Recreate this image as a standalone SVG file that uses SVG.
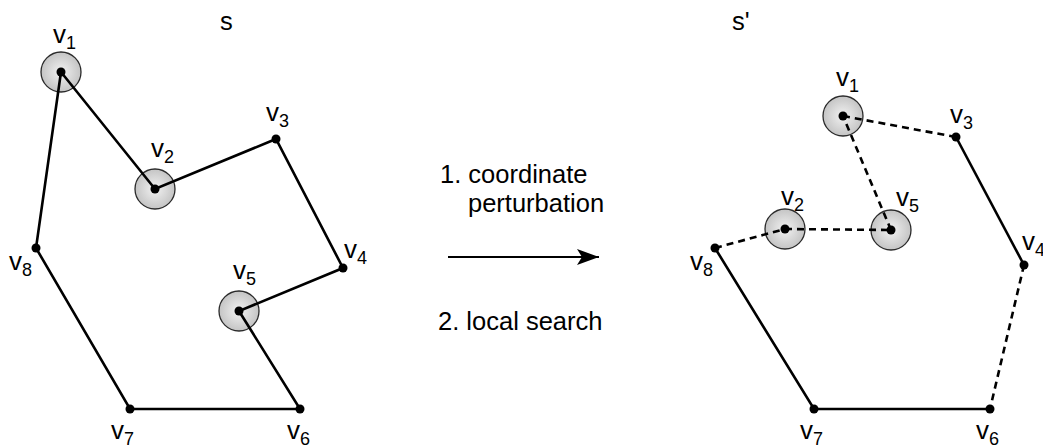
<svg xmlns="http://www.w3.org/2000/svg" width="1043" height="447" viewBox="0 0 1043 447">
<defs>
<radialGradient id="g" cx="50%" cy="50%" r="50%">
<stop offset="0" stop-color="#f2f2f2"/>
<stop offset="1" stop-color="#c4c4c4"/>
</radialGradient>
<marker id="ah" viewBox="0 0 22 16" refX="22" refY="8" markerWidth="22" markerHeight="16" markerUnits="userSpaceOnUse" orient="auto">
<path d="M0,0 L22,8 L0,16 L5,8 Z" fill="#000"/>
</marker>
</defs>
<style>
text{font-family:"Liberation Sans",Arial,sans-serif;fill:#000}
.lb{font-size:26px}
.sb{font-size:18px}
.big{font-size:25.5px}
.e{stroke:#000;stroke-width:2.6;fill:none}
.d{stroke:#000;stroke-width:2.6;fill:none;stroke-dasharray:7 5}
.halo{fill:url(#g);stroke:#2a2a2a;stroke-width:1.3}
.dot{fill:#000}
</style>
<rect width="1043" height="447" fill="#fff"/>
<text class="big" x="220" y="30">s</text>
<text class="big" x="732" y="30">s'</text>
<g id="arrow">
<line x1="448" y1="257" x2="599" y2="257" stroke="#000" stroke-width="2" marker-end="url(#ah)"/>
<text class="big" x="440" y="183">1. coordinate</text>
<text class="big" x="468" y="212">perturbation</text>
<text class="big" x="438" y="330">2. local search</text>
</g>
<g id="halos">
<circle class="halo" cx="61" cy="72" r="20"/>
<circle class="halo" cx="155" cy="189" r="20"/>
<circle class="halo" cx="239" cy="311" r="20"/>
<circle class="halo" cx="843" cy="116" r="20"/>
<circle class="halo" cx="785" cy="229" r="20"/>
<circle class="halo" cx="891" cy="230" r="20"/>
</g>
<g id="connectors">
<polyline class="e" points="61,72 155,189 276,139 343,268 239,311 300,409 130,409 36,248 61,72"/>
<line class="d" x1="843" y1="116" x2="956" y2="137"/>
<line class="e" x1="956" y1="137" x2="1024" y2="265"/>
<line class="d" x1="1024" y1="265" x2="990" y2="409"/>
<polyline class="e" points="990,409 814,409 715,248"/>
<line class="d" x1="715" y1="248" x2="785" y2="229"/>
<line class="d" x1="785" y1="229" x2="891" y2="230"/>
<line class="d" x1="891" y1="230" x2="843" y2="116"/>
</g>
<g id="s-v1"><circle class="dot" cx="61" cy="72" r="4.5"/><text class="lb" x="53" y="43">v<tspan class="sb" dy="6">1</tspan></text></g>
<g id="s-v2"><circle class="dot" cx="155" cy="189" r="4.5"/><text class="lb" x="151" y="157">v<tspan class="sb" dy="6">2</tspan></text></g>
<g id="s-v3"><circle class="dot" cx="276" cy="139" r="4.5"/><text class="lb" x="266" y="121">v<tspan class="sb" dy="6">3</tspan></text></g>
<g id="s-v4"><circle class="dot" cx="343" cy="268" r="4.5"/><text class="lb" x="344" y="258">v<tspan class="sb" dy="6">4</tspan></text></g>
<g id="s-v5"><circle class="dot" cx="239" cy="311" r="4.5"/><text class="lb" x="233" y="279">v<tspan class="sb" dy="6">5</tspan></text></g>
<g id="s-v6"><circle class="dot" cx="300" cy="409" r="4.5"/><text class="lb" x="287" y="439">v<tspan class="sb" dy="6">6</tspan></text></g>
<g id="s-v7"><circle class="dot" cx="130" cy="409" r="4.5"/><text class="lb" x="111" y="439">v<tspan class="sb" dy="6">7</tspan></text></g>
<g id="s-v8"><circle class="dot" cx="36" cy="248" r="4.5"/><text class="lb" x="9" y="270">v<tspan class="sb" dy="6">8</tspan></text></g>
<g id="t-v1"><circle class="dot" cx="843" cy="116" r="4.5"/><text class="lb" x="836" y="86">v<tspan class="sb" dy="6">1</tspan></text></g>
<g id="t-v2"><circle class="dot" cx="785" cy="229" r="4.5"/><text class="lb" x="781" y="205">v<tspan class="sb" dy="6">2</tspan></text></g>
<g id="t-v3"><circle class="dot" cx="956" cy="137" r="4.5"/><text class="lb" x="950" y="123">v<tspan class="sb" dy="6">3</tspan></text></g>
<g id="t-v4"><circle class="dot" cx="1024" cy="265" r="4.5"/><text class="lb" x="1022" y="250">v<tspan class="sb" dy="6">4</tspan></text></g>
<g id="t-v5"><circle class="dot" cx="891" cy="230" r="4.5"/><text class="lb" x="896" y="206">v<tspan class="sb" dy="6">5</tspan></text></g>
<g id="t-v6"><circle class="dot" cx="990" cy="409" r="4.5"/><text class="lb" x="976" y="439">v<tspan class="sb" dy="6">6</tspan></text></g>
<g id="t-v7"><circle class="dot" cx="814" cy="409" r="4.5"/><text class="lb" x="800" y="439">v<tspan class="sb" dy="6">7</tspan></text></g>
<g id="t-v8"><circle class="dot" cx="715" cy="248" r="4.5"/><text class="lb" x="690" y="270">v<tspan class="sb" dy="6">8</tspan></text></g>
</svg>
